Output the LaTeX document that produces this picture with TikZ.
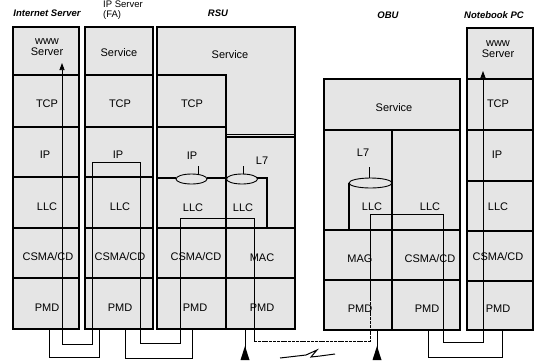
\documentclass[tikz,border=0pt]{standalone}
\usepackage{fontspec}
\setmainfont{Liberation Sans}
\usetikzlibrary{arrows.meta,shapes.geometric}
\begin{document}
\begin{tikzpicture}[x=1pt,y=-1pt,
  box/.style={draw,line width=1.1pt,fill=black!10},
  rule/.style={line width=1.1pt},
  lbl/.style={inner sep=0pt,font=\fontsize{11}{11.5}\selectfont},
  ttl/.style={inner sep=0pt,font=\fontsize{9.5}{10}\selectfont\bfseries\itshape},
  ttlu/.style={inner sep=0pt,font=\fontsize{9.5}{10}\selectfont,align=left},
  link/.style={line width=0.75pt},
  tip/.style={-{Triangle[length=7pt,width=5pt]}},
  ell/.style={draw,ellipse,line width=0.9pt,fill=black!10,inner sep=0pt}]
\useasboundingbox (0,0) rectangle (535,360);
% ---------- titles
\node[ttl] (tInet) at (47,13) {Internet Server};
\node[ttlu,anchor=west] (tIP) at (103,10) {IP Server\\(FA)};
\node[ttl] (tRSU) at (218,13) {RSU};
\node[ttl] (tOBU) at (388,15) {OBU};
\node[ttl] (tNB) at (494,15) {Notebook PC};
% ---------- Internet Server
\draw[box] (13,27) rectangle (79,329);
\foreach \y in {75,127,177,228,278} \draw[rule] (13,\y) -- (79,\y);
\node[lbl,align=center] (a1) at (47,47) {www\\Server};
\node[lbl] (a2) at (47,104) {TCP};
\node[lbl] (a3) at (45,155) {IP};
\node[lbl] (a4) at (47,207) {LLC};
\node[lbl] (a5) at (48,257) {CSMA/CD};
\node[lbl] (a6) at (47,308) {PMD};
% ---------- IP Server
\draw[box] (85,27) rectangle (153,329);
\foreach \y in {75,127,177,228,278} \draw[rule] (85,\y) -- (153,\y);
\node[lbl] (b1) at (119,53) {Service};
\node[lbl] (b2) at (120,104) {TCP};
\node[lbl] (b3) at (118,155) {IP};
\node[lbl] (b4) at (120,207) {LLC};
\node[lbl] (b5) at (120,257) {CSMA/CD};
\node[lbl] (b6) at (120,308) {PMD};
% ---------- RSU
\draw[box] (157,27) rectangle (295,329);
\draw[rule] (157,75) -- (226,75) -- (226,329);
\draw[rule] (157,127) -- (226,127);
\draw[line width=0.6pt] (226,134) -- (295,134);
\draw[rule] (226,137) -- (295,137);
\draw[rule] (157,178) -- (176,178);
\draw[rule] (207,178) -- (226,178);
\draw[rule] (257,178) -- (267,178) -- (267,228);
\draw[rule] (157,228) -- (295,228);
\draw[rule] (157,278) -- (295,278);
\draw[line width=0.9pt] (198,166) -- (198,175);
\draw[line width=0.9pt] (243,166) -- (243,175);
\node[ell,minimum width=31pt,minimum height=10pt] (e1) at (191.5,179) {};
\node[ell,minimum width=31pt,minimum height=10pt] (e2) at (242,179) {};
\node[lbl] (c1) at (230,55) {Service};
\node[lbl] (c2) at (192,104) {TCP};
\node[lbl] (c3) at (192,156) {IP};
\node[lbl] (c4) at (262,161) {L7};
\node[lbl] (c5) at (193,208) {LLC};
\node[lbl] (c6) at (243,208) {LLC};
\node[lbl] (c7) at (196,257) {CSMA/CD};
\node[lbl] (c8) at (262,258) {MAC};
\node[lbl] (c9) at (195,308) {PMD};
\node[lbl] (c10) at (262,308) {PMD};
% ---------- OBU
\draw[box] (324,79) rectangle (460,330);
\draw[rule] (324,130) -- (460,130);
\draw[rule] (392,130) -- (392,330);
\draw[rule] (324,230) -- (460,230);
\draw[rule] (324,280) -- (460,280);
\draw[rule] (349,183) -- (349,230);
\draw[line width=0.9pt] (369,167) -- (369,178);
\node[ell,minimum width=43pt,minimum height=10pt] (e3) at (370.5,183) {};
\node[lbl] (d1) at (394,108) {Service};
\node[lbl] (d2) at (363,153) {L7};
\node[lbl] (d3) at (372,207) {LLC};
\node[lbl] (d4) at (430,207) {LLC};
\node[lbl] (d5) at (360,259) {MAG};
\node[lbl] (d6) at (430,259) {CSMA/CD};
\node[lbl] (d7) at (360,309) {PMD};
\node[lbl] (d8) at (427,309) {PMD};
% ---------- Notebook PC
\draw[box] (467,28) rectangle (533,330);
\foreach \y in {79,130,181,231,281} \draw[rule] (467,\y) -- (533,\y);
\node[lbl,align=center] (f1) at (498,49) {www\\Server};
\node[lbl] (f2) at (498,104) {TCP};
\node[lbl] (f3) at (497,155) {IP};
\node[lbl] (f4) at (498,207) {LLC};
\node[lbl] (f5) at (498,257) {CSMA/CD};
\node[lbl] (f6) at (498,309) {PMD};
% ---------- data path
\coordinate (p0) at (62,63);
\coordinate (p1) at (62,344);
\coordinate (p2) at (92,162);
\coordinate (p3) at (140,343);
\coordinate (p4) at (180,218);
\coordinate (p5) at (254,341);
\coordinate (p6) at (370,214);
\coordinate (p7) at (443,342);
\coordinate (p8) at (483,71);
\draw[link,tip] (p1) -- (p0);
\draw[link,tip] (p7) -| (p8);
\draw[link] (p1) -| (p2) -| (p3) -| (p4) -| (p5);
\draw[line width=0.6pt,dash pattern=on 3pt off 0.8pt] (p5) -| (370,300);
\draw[link] (370,300) |- (p6) -| (p7);
% ---------- cables
\coordinate (q1) at (49,329); \coordinate (q2) at (99,357);
\coordinate (q3) at (125,329); \coordinate (q4) at (192,358);
\coordinate (q5) at (428,330); \coordinate (q6) at (502,357);
\draw[link] (q1) |- (q2) -- (99,329);
\draw[link] (q3) |- (q4) -- (192,329);
\draw[link] (q5) |- (q6) -- (502,330);
% ---------- radio link
\coordinate (r1) at (245,329); \coordinate (r2) at (245,360);
\coordinate (r3) at (377,330); \coordinate (r4) at (377,360);
\draw[link] (r1) -- (r2);
\draw[link] (r3) -- (r4);
\fill (245,346) -- (249.5,360) -- (240.5,360) -- cycle;
\fill (377,346) -- (381.5,360) -- (372.5,360) -- cycle;
\draw[line width=1pt] (280,358) -- (306,355) -- (317,350) -- (311,357) -- (320,356) -- (335,354);
\end{tikzpicture}
\end{document}
